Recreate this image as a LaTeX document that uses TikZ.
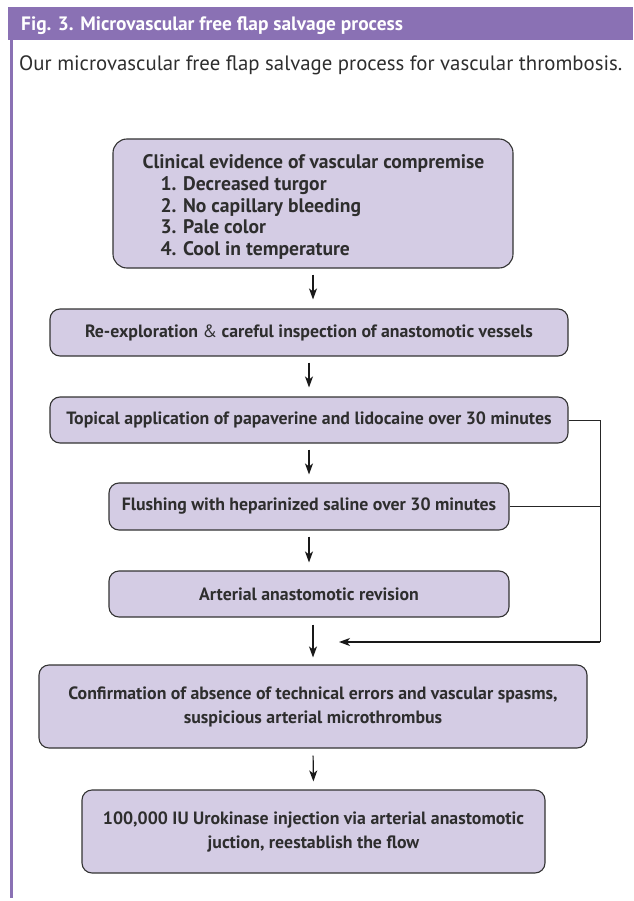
\documentclass[tikz,border=0pt]{standalone}
\usepackage{fontspec}
\setmainfont{PT Sans}
\usetikzlibrary{arrows.meta}
\definecolor{hdr}{HTML}{8A71B4}
\definecolor{boxfill}{HTML}{D4CCE4}
\definecolor{boxline}{HTML}{333333}
\definecolor{txt}{HTML}{2E2E2E}
\tikzset{
  flowbox/.style={draw=boxline, fill=boxfill, line width=1.1pt, rounded corners=10pt,
    inner sep=0pt, font=\fontsize{17.8}{21.5}\selectfont\bfseries, text=txt, align=center},
  arr/.style={draw=black!90, line width=1.2pt, -{Stealth[length=11pt,width=8pt,inset=3pt]}},
  link/.style={draw=black!85, line width=1pt},
}
\begin{document}
\begin{tikzpicture}[x=1pt,y=-1pt]
\useasboundingbox (0,0) rectangle (633,901);
% header
\fill[hdr] (8,7) rectangle (633,40);
\fill[hdr] (10,40) rectangle (13,898);
\node[anchor=base west, text=white, font=\fontsize{19.4}{22}\selectfont\bfseries, inner sep=0pt] (title) at (21,31) {Fig. 3. Microvascular free flap salvage process};
\node[anchor=base west, text=txt, font=\fontsize{20.8}{24}\selectfont, inner sep=0pt] (subtitle) at (19,71) {Our microvascular free flap salvage process for vascular thrombosis.};
% boxes
\node[flowbox, minimum width=400, minimum height=129, rounded corners=14pt] (b1) at (313,203.5) {};
\node[inner sep=0pt, align=left, text=txt, font=\fontsize{19.6}{21.6}\selectfont\bfseries] (b1text) at (313.5,207)
  {Clinical evidence of vascular compremise\\
   \hspace*{18pt}1. Decreased turgor\\
   \hspace*{18pt}2. No capillary bleeding\\
   \hspace*{18pt}3. Pale color\\
   \hspace*{18pt}4. Cool in temperature};
\node[flowbox, minimum width=518, minimum height=47] (b2) at (309,332.5)
  {Re-exploration {\mdseries\&} careful inspection of anastomotic vessels};
\node[flowbox, minimum width=518, minimum height=46] (b3) at (309,420)
  {Topical application of papaverine and lidocaine over 30 minutes};
\node[flowbox, minimum width=400, minimum height=47] (b4) at (309,506.5)
  {Flushing with heparinized saline over 30 minutes};
\node[flowbox, minimum width=400, minimum height=46] (b5) at (309,594)
  {Arterial anastomotic revision};
\node[flowbox, minimum width=548, minimum height=83, font=\fontsize{17.8}{24}\selectfont\bfseries] (b6) at (313,706.5)
  {Confirmation of absence of technical errors and vascular spasms,\\suspicious arterial microthrombus};
\node[flowbox, minimum width=463, minimum height=83, font=\fontsize{17.8}{24}\selectfont\bfseries] (b7) at (313.5,831.5)
  {100,000 IU Urokinase injection via arterial anastomotic\\juction, reestablish the flow};
% arrows
\draw[arr, shorten <=6pt, shorten >=9pt] (b1.south) -- (b1.south |- b2.north);
\draw[arr, shorten <=6pt, shorten >=9pt] (b2.south) -- (b3.north);
\draw[arr, shorten <=6pt, shorten >=8pt] (b3.south) -- (b4.north);
\draw[arr, shorten <=6pt, shorten >=8pt] (b4.south) -- (b5.north);
\draw[arr, shorten <=7pt, shorten >=7pt] (b5.south -| b6.north) -- (b6.north);
\draw[arr, shorten <=7pt, shorten >=8pt] (b6.south) -- (b7.north);
% feedback connector
\coordinate (rj) at (600,642);
\coordinate (tip) at (339,642);
\draw[link] (b3.east) -- (b3.east -| rj) -- (rj);
\draw[link] (b4.east) -- (b4.east -| rj);
\draw[arr] (rj) -- (tip);
\end{tikzpicture}
\end{document}
